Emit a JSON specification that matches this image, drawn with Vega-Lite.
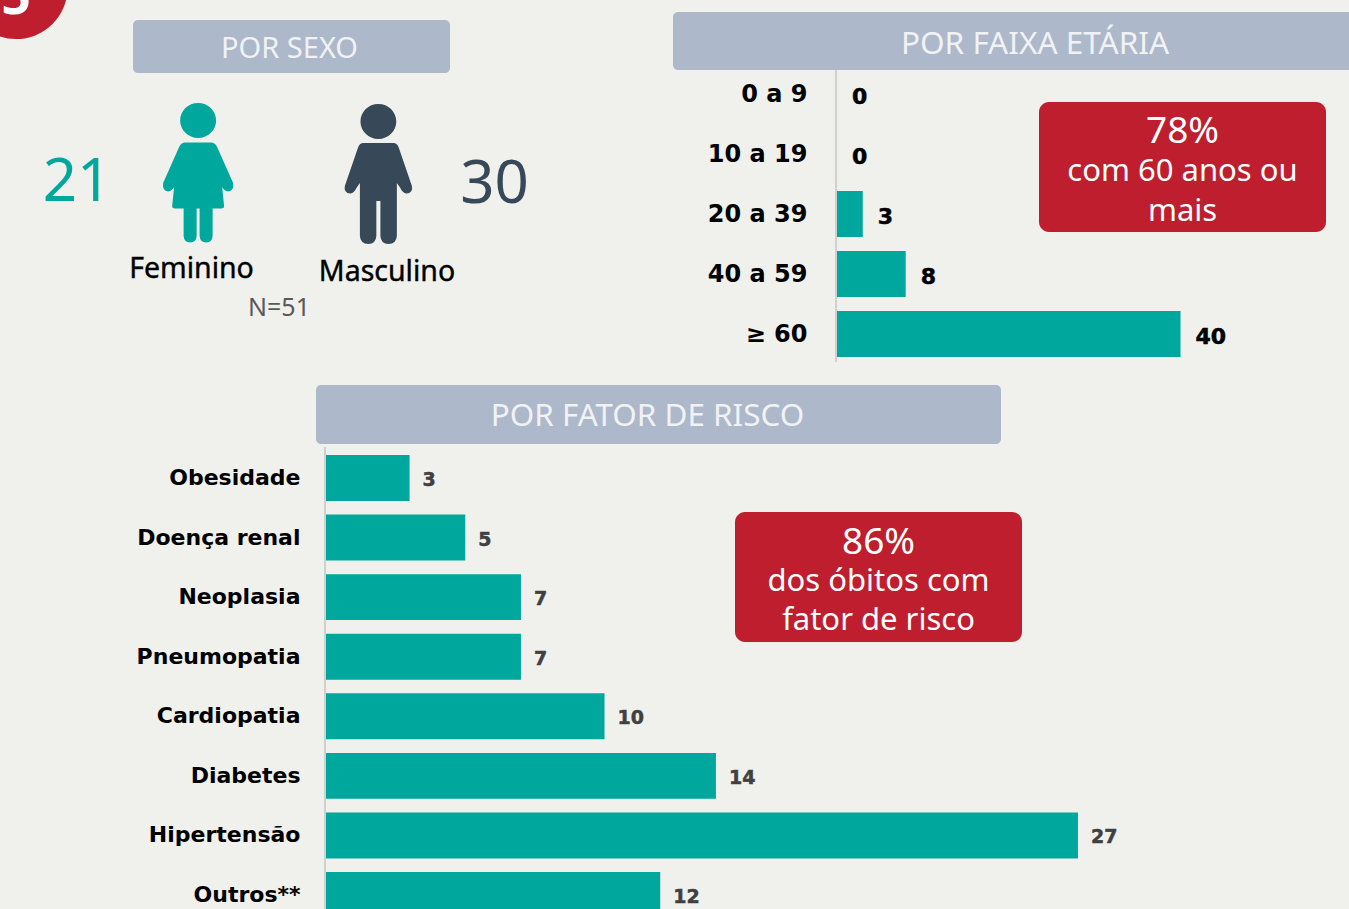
{
"$schema":"https://vega.github.io/schema/vega-lite/v6.json",
"width":1349,"height":909,"autosize":"none","padding":0,"background":"#f0f0ec",
"config":{"view":{"stroke":null}},
"datasets":{
"faixa":[{"faixa":"0 a 9","obitos":0},{"faixa":"10 a 19","obitos":0},{"faixa":"20 a 39","obitos":3},{"faixa":"40 a 59","obitos":8},{"faixa":"≥ 60","obitos":40}],
"risco":[{"fator":"Obesidade","obitos":3},{"fator":"Doença renal","obitos":5},{"fator":"Neoplasia","obitos":7},{"fator":"Pneumopatia","obitos":7},{"fator":"Cardiopatia","obitos":10},{"fator":"Diabetes","obitos":14},{"fator":"Hipertensão","obitos":27},{"fator":"Outros**","obitos":12}],
"sexo":[{"sexo":"Feminino","obitos":21},{"sexo":"Masculino","obitos":30}]
},
"resolve":{"scale":{"x":"independent","y":"independent","color":"independent","shape":"independent"},"axis":{"x":"independent","y":"independent"}},
"layer":[
{"data":{"values":[{"k":"selo","t":"5"}]},
 "encoding":{"x":{"field":"k","type":"nominal","axis":null,"scale":{"range":[0,32],"paddingInner":0,"paddingOuter":0}},"y":{"field":"k","type":"nominal","axis":null,"scale":{"range":[-25,0],"paddingInner":0,"paddingOuter":0}}},
 "layer":[
  {"mark":{"type":"point","shape":"circle","filled":true,"size":10650,"color":"#be1e2d","opacity":1}},
  {"mark":{"type":"text","font":"Noto Sans","fontWeight":"bold","fontSize":52,"color":"#ffffff","baseline":"alphabetic","dy":26},"encoding":{"text":{"field":"t"}}}
 ]},
{"data":{"values":[{"t":"POR SEXO"}]},
 "encoding":{"x":{"field":"t","type":"nominal","axis":null,"scale":{"range":[133,450],"paddingInner":0,"paddingOuter":0}},"y":{"field":"t","type":"nominal","axis":null,"scale":{"range":[20,73],"paddingInner":0,"paddingOuter":0}}},
 "layer":[
  {"mark":{"type":"rect","color":"#adb8cb","cornerRadius":5}},
  {"mark":{"type":"text","font":"Noto Sans","fontSize":29,"color":"#f1f2f4","dx":-2,"dy":2},"encoding":{"text":{"field":"t"}}}
 ]},
{"data":{"values":[{"t":"POR FAIXA ETÁRIA"}]},
 "encoding":{"x":{"field":"t","type":"nominal","axis":null,"scale":{"range":[673,1397],"paddingInner":0,"paddingOuter":0}},"y":{"field":"t","type":"nominal","axis":null,"scale":{"range":[12,70],"paddingInner":0,"paddingOuter":0}}},
 "layer":[
  {"mark":{"type":"rect","color":"#adb8cb","cornerRadius":5}},
  {"mark":{"type":"text","font":"Noto Sans","fontSize":31.5,"color":"#f1f2f4","dy":4},"encoding":{"text":{"field":"t"}}}
 ]},
{"data":{"values":[{"t":"POR FATOR DE RISCO"}]},
 "encoding":{"x":{"field":"t","type":"nominal","axis":null,"scale":{"range":[316,1001],"paddingInner":0,"paddingOuter":0}},"y":{"field":"t","type":"nominal","axis":null,"scale":{"range":[385,444],"paddingInner":0,"paddingOuter":0}}},
 "layer":[
  {"mark":{"type":"rect","color":"#adb8cb","cornerRadius":5}},
  {"mark":{"type":"text","font":"Noto Sans","fontSize":31.4,"color":"#f1f2f4","dx":-11,"dy":2},"encoding":{"text":{"field":"t"}}}
 ]},
{"data":{"name":"sexo"},
 "mark":{"type":"point","filled":true,"size":19600,"opacity":1,"strokeWidth":0},
 "encoding":{
  "x":{"field":"sexo","type":"nominal","axis":null,"scale":{"range":[108,468.5],"paddingInner":0,"paddingOuter":0}},
  "y":{"field":"sexo","type":"nominal","axis":null,"scale":{"range":[172.5,174.5],"paddingInner":0,"paddingOuter":0}},
  "color":{"field":"sexo","type":"nominal","legend":null,"scale":{"domain":["Feminino","Masculino"],"range":["#00a79d","#374958"]}},
  "shape":{"field":"sexo","type":"nominal","legend":null,"scale":{"domain":["Feminino","Masculino"],"range":[
   "M-0.257,-0.75A0.257,0.25 0 1,1 0.257,-0.75A0.257,0.25 0 1,1 -0.257,-0.75ZM-0.186,-0.436L0.186,-0.436Q0.243,-0.436 0.271,-0.371L0.5,0.143Q0.514,0.257 0.429,0.264Q0.371,0.257 0.343,0.2L0.371,0.471Q0.371,0.507 0.329,0.507L0.207,0.507L0.207,0.9Q0.2,0.993 0.114,0.993Q0.029,0.993 0.021,0.9L0.021,0.507L-0.021,0.507L-0.021,0.9Q-0.029,0.993 -0.114,0.993Q-0.2,0.993 -0.207,0.9L-0.207,0.507L-0.329,0.507Q-0.371,0.507 -0.371,0.471L-0.343,0.2Q-0.371,0.257 -0.429,0.264Q-0.514,0.257 -0.5,0.143L-0.271,-0.371Q-0.243,-0.436 -0.186,-0.436Z",
   "M-0.256,-0.75A0.256,0.25 0 1,1 0.256,-0.75A0.256,0.25 0 1,1 -0.256,-0.75ZM-0.214,-0.443L0.214,-0.443Q0.271,-0.443 0.293,-0.371L0.479,0.171Q0.5,0.271 0.4,0.279Q0.343,0.271 0.314,0.2L0.264,0.129L0.264,0.886Q0.257,1 0.143,1Q0.036,1 0.029,0.886L0.029,0.386L-0.029,0.386L-0.029,0.886Q-0.036,1 -0.143,1Q-0.257,1 -0.264,0.886L-0.264,0.129L-0.314,0.2Q-0.343,0.271 -0.4,0.279Q-0.5,0.271 -0.479,0.171L-0.293,-0.371Q-0.271,-0.443 -0.214,-0.443Z"
  ]}}
 }},
{"data":{"name":"sexo"},
 "mark":{"type":"text","font":"Noto Sans","fontSize":60},
 "encoding":{
  "x":{"field":"sexo","type":"nominal","axis":null,"scale":{"range":[-131.75,703.25],"paddingInner":0,"paddingOuter":0}},
  "y":{"field":"sexo","type":"nominal","axis":null,"scale":{"range":[182,186],"paddingInner":0,"paddingOuter":0}},
  "text":{"field":"obitos","type":"quantitative"},
  "color":{"field":"sexo","type":"nominal","legend":null,"scale":{"domain":["Feminino","Masculino"],"range":["#00a79d","#374958"]}}
 }},
{"data":{"name":"sexo"},
 "mark":{"type":"text","font":"Noto Sans","fontSize":28.5,"color":"#000000","stroke":"#000000","strokeWidth":0.4},
 "encoding":{
  "x":{"field":"sexo","type":"nominal","axis":null,"scale":{"range":[93.75,484.75],"paddingInner":0,"paddingOuter":0}},
  "y":{"field":"sexo","type":"nominal","axis":null,"scale":{"range":[267,273],"paddingInner":0,"paddingOuter":0}},
  "text":{"field":"sexo"}
 }},
{"data":{"values":[{"t":"N=51"}]},
 "mark":{"type":"text","font":"Noto Sans","fontSize":25,"color":"#595959"},
 "encoding":{
  "x":{"field":"t","type":"nominal","axis":null,"scale":{"range":[249,309],"paddingInner":0,"paddingOuter":0}},
  "y":{"field":"t","type":"nominal","axis":null,"scale":{"range":[296,320],"paddingInner":0,"paddingOuter":0}},
  "text":{"field":"t"}
 }},
{"data":{"values":[{"k":"eixo"}]},
 "mark":{"type":"rect","color":"#d0d0d0"},
 "encoding":{
  "x":{"field":"k","type":"nominal","axis":null,"scale":{"range":[835,837],"paddingInner":0,"paddingOuter":0}},
  "y":{"field":"k","type":"nominal","axis":null,"scale":{"range":[70,362],"paddingInner":0,"paddingOuter":0}}
 }},
{"data":{"values":[{"k":"eixo"}]},
 "mark":{"type":"rect","color":"#d0d0d0"},
 "encoding":{
  "x":{"field":"k","type":"nominal","axis":null,"scale":{"range":[324,326],"paddingInner":0,"paddingOuter":0}},
  "y":{"field":"k","type":"nominal","axis":null,"scale":{"range":[447,909],"paddingInner":0,"paddingOuter":0}}
 }},
{"data":{"name":"faixa"},
 "encoding":{
  "y":{"field":"faixa","type":"nominal","sort":null,"title":null,
   "scale":{"domain":["0 a 9","10 a 19","20 a 39","40 a 59","≥ 60"],"range":[71,357],"paddingInner":0.233,"paddingOuter":0},
   "axis":{"orient":"left","offset":-836,"ticks":false,"domain":false,"title":null,"labelPadding":29,"labelOffset":1,"labelFont":"DejaVu Sans","labelFontWeight":"bold","labelFontSize":24,"labelColor":"#000000"}},
  "x":{"field":"obitos","type":"quantitative","axis":null,"scale":{"domain":[0,40],"range":[837,1180.5],"nice":false,"zero":true}}
 },
 "layer":[
  {"mark":{"type":"bar","color":"#00a79d"}},
  {"mark":{"type":"text","font":"DejaVu Sans","fontWeight":"bold","fontSize":22,"color":"#000000","stroke":"#000000","strokeWidth":0.5,"align":"left","dx":15,"dy":3},"encoding":{"text":{"field":"obitos","type":"quantitative"}}}
 ]},
{"data":{"name":"risco"},
 "encoding":{
  "y":{"field":"fator","type":"nominal","sort":null,"title":null,
   "scale":{"domain":["Obesidade","Doença renal","Neoplasia","Pneumopatia","Cardiopatia","Diabetes","Hipertensão","Outros**"],"range":[455,918],"paddingInner":0.23,"paddingOuter":0},
   "axis":{"orient":"left","offset":-325,"ticks":false,"domain":false,"title":null,"labelPadding":25,"labelOffset":0,"labelFont":"DejaVu Sans","labelFontWeight":"bold","labelFontSize":22,"labelColor":"#000000"}},
  "x":{"field":"obitos","type":"quantitative","axis":null,"scale":{"domain":[0,27],"range":[326,1078],"nice":false,"zero":true}}
 },
 "layer":[
  {"mark":{"type":"bar","color":"#00a79d"}},
  {"mark":{"type":"text","font":"DejaVu Sans","fontWeight":"bold","fontSize":19,"color":"#404040","stroke":"#404040","strokeWidth":0.5,"align":"left","dx":13,"dy":2},"encoding":{"text":{"field":"obitos","type":"quantitative"}}}
 ]},
{"data":{"values":[{"k":"caixa"}]},
 "mark":{"type":"rect","color":"#be1e2d","cornerRadius":10},
 "encoding":{
  "x":{"field":"k","type":"nominal","axis":null,"scale":{"range":[1039,1326],"paddingInner":0,"paddingOuter":0}},
  "y":{"field":"k","type":"nominal","axis":null,"scale":{"range":[102,232],"paddingInner":0,"paddingOuter":0}}
 }},
{"data":{"values":[{"k":"caixa","linha":"78%","n":0},{"k":"caixa","linha":"com 60 anos ou","n":1},{"k":"caixa","linha":"mais","n":2}]},
 "mark":{"type":"text","font":"Noto Sans","color":"#ffffff"},
 "encoding":{
  "x":{"field":"k","type":"nominal","axis":null,"scale":{"domain":["caixa"],"range":[1039,1326],"paddingInner":0,"paddingOuter":0}},
  "y":{"field":"linha","type":"nominal","sort":null,"axis":null,"scale":{"domain":["78%","com 60 anos ou","mais"],"range":[112,232],"paddingInner":0,"paddingOuter":0}},
  "size":{"condition":{"test":"datum.n === 0","value":37},"value":31},
  "text":{"field":"linha"}
 }},
{"data":{"values":[{"k":"caixa"}]},
 "mark":{"type":"rect","color":"#be1e2d","cornerRadius":10},
 "encoding":{
  "x":{"field":"k","type":"nominal","axis":null,"scale":{"range":[735,1022],"paddingInner":0,"paddingOuter":0}},
  "y":{"field":"k","type":"nominal","axis":null,"scale":{"range":[512,642],"paddingInner":0,"paddingOuter":0}}
 }},
{"data":{"values":[{"k":"caixa","linha":"86%","n":0},{"k":"caixa","linha":"dos óbitos com","n":1},{"k":"caixa","linha":"fator de risco","n":2}]},
 "mark":{"type":"text","font":"Noto Sans","color":"#ffffff"},
 "encoding":{
  "x":{"field":"k","type":"nominal","axis":null,"scale":{"domain":["caixa"],"range":[735,1022],"paddingInner":0,"paddingOuter":0}},
  "y":{"field":"linha","type":"nominal","sort":null,"axis":null,"scale":{"domain":["86%","dos óbitos com","fator de risco"],"range":[523,641],"paddingInner":0,"paddingOuter":0}},
  "size":{"condition":{"test":"datum.n === 0","value":37},"value":31},
  "text":{"field":"linha"}
 }}
]
}
